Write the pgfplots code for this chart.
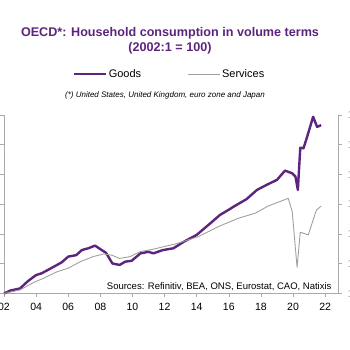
\documentclass[border=0pt]{standalone}
\usepackage{fontspec}
\setmainfont{Liberation Sans}
\usepackage{pgfplots}
\pgfplotsset{compat=1.18}
\definecolor{npurple}{RGB}{92,36,124}
\definecolor{ngray}{RGB}{160,160,160}
\definecolor{naxis}{RGB}{170,170,170}
\begin{document}
\begin{tikzpicture}[x=1pt,y=1pt]
\begin{axis}[
  at={(4pt,56.5pt)}, anchor=south west,
  scale only axis, width=334pt, height=178.5pt,
  xmin=2002, xmax=2022.8, ymin=100, ymax=160,
  axis x line=bottom, axis y line=box,
  axis line style={naxis, line width=0.6pt, -},
  tick style={naxis, line width=0.6pt},
  tick align=outside, major tick length=4pt,
  xtick={2002,2004,...,2022},
  xticklabels={02,04,06,08,10,12,14,16,18,20,22},
  ytick={100,110,...,160},
  ytick pos=both, yticklabel pos=right,
  /pgf/number format/assume math mode=true,
  ticklabel style={font=\fontsize{10.5}{12}\selectfont, text=black},
  yticklabel style={text=naxis, xshift=2pt},
  xticklabel style={yshift=-2pt},
  legend style={at={(0.495,1.23)}, anchor=center, draw=none, fill=none,
    legend columns=2, font=\fontsize{11}{13}\selectfont,
    /tikz/every even column/.append style={column sep=44pt}},
  legend image code/.code={\draw[#1] (0pt,0pt) -- (32pt,0pt);},
  clip=false,
]
\addplot[npurple, line width=2.4pt, line join=round] coordinates {
(2002.0,100) (2002.4,101) (2003.0,101.7) (2003.5,104.2) (2004.0,106.2)
(2004.35,106.8) (2005.1,109) (2005.6,110.5) (2006.0,112.4) (2006.5,112.9)
(2006.85,114.6) (2007.25,115.2) (2007.67,116.1) (2008.0,114.9) (2008.35,113.7)
(2008.75,110.1) (2009.2,109.6) (2009.55,110.7) (2009.95,111) (2010.5,113.5)
(2011.0,114) (2011.3,113.5) (2011.9,114.6) (2012.55,115.2) (2013.2,117.4)
(2014.0,119.7) (2014.85,123.6) (2015.45,126.4) (2016.1,128.5) (2016.3,129.2)
(2017.1,131.7) (2017.75,134.8) (2018.35,136.5) (2019.0,138.2) (2019.5,141.3)
(2019.95,140.4) (2020.15,139.3) (2020.3,134.8) (2020.45,149) (2020.65,148.8)
(2020.85,152.2) (2021.25,159.4) (2021.5,156) (2021.75,156.6)
};
\addlegendentry{Goods}
\addplot[ngray, line width=0.9pt, line join=round] coordinates {
(2002.0,100) (2003.0,101.2) (2003.8,103.6) (2004.45,105.1) (2005.3,107.3)
(2006.0,108.5) (2006.75,110.7) (2007.55,112.4) (2008.2,113.3) (2008.7,112.9)
(2009.2,111.8) (2009.85,112.4) (2010.5,114.1) (2011.3,114.9) (2012.15,116)
(2012.65,116.6) (2014.1,119.1) (2015.35,122.5) (2016.6,125.3) (2017.65,127)
(2018.45,129.4) (2019.7,132) (2019.95,127.5) (2020.25,108.8) (2020.45,120.6)
(2020.95,119.7) (2021.45,128) (2021.75,129.4)
};
\addlegendentry{Services}
\end{axis}
\node[font=\bfseries\fontsize{12.6}{15}\selectfont, text=npurple, align=center] at (170pt,309pt)
  {OECD*: Household consumption in volume terms\\(2002:1 = 100)};
\node[font=\itshape\fontsize{8}{9}\selectfont] at (165pt,255pt)
  {(*) United States, United Kingdom, euro zone and Japan};
\node[font=\fontsize{9.5}{11}\selectfont, anchor=east] at (335pt,63pt)
  {Sources: Refinitiv, BEA, ONS, Eurostat, CAO, Natixis};
\pgfresetboundingbox
\path[use as bounding box] (0pt,0pt) rectangle (350pt,350pt);
\end{tikzpicture}
\end{document}
